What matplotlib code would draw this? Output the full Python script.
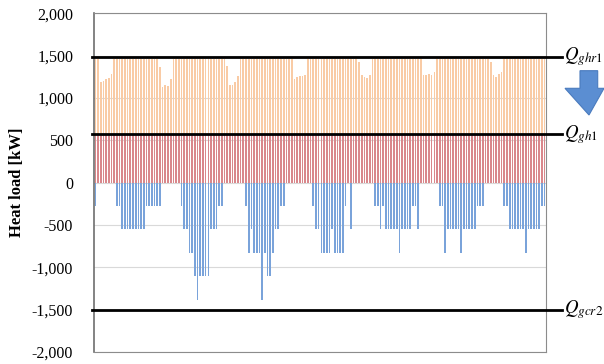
import numpy as np
import matplotlib.pyplot as plt
from matplotlib.patches import Polygon

plt.rcParams['font.family'] = ['Liberation Serif', 'DejaVu Serif']
plt.rcParams['mathtext.fontset'] = 'stix'

# hourly heating load [kW], one list per day (24 h)
F = 1460
heat_d1 = [F, F, 1190, 1205, 1220, 1235, 1280] + [F] * 17
heat_d2 = [1370, 1130, 1160, 1140, 1225] + [F] * 19
heat_d3 = [F, 1380, 1160, 1160, 1190, 1265] + [F] * 18
heat_d4 = [F, F, 1222, 1245, 1255, 1255, 1275] + [F] * 17
heat_d5 = [F, F, 1430, 1275, 1245, 1235, 1275] + [F] * 17
heat_d6 = [F, F, 1275, 1275, 1285, 1275, 1305] + [F] * 17
heat_d7 = [F, F, F, 1430, 1275, 1245, 1285, 1305] + [F] * 16

# hourly cooling load [kW] (negative), one list per day
cool_d1 = [-276, 0, 0, 0, 0, 0, 0, 0, -276, -276,
           -552, -552, -552, -552, -552, -552, -552, -552, -552,
           -276, -276, -276, -276, -276]
cool_d2 = [-276, 0, 0, 0, 0, 0, 0, 0, -276, -552,
           -552, -828, -828, -1104, -1380, -1104, -1104, -1104, -1104,
           -552, -552, -552, -276, -276]
cool_d3 = [0, 0, 0, 0, 0, 0, 0, 0, -276, -828,
           -552, -828, -828, -828, -1380, -828, -1104, -1104, -828,
           -552, -552, -276, -276, 0]
cool_d4 = [0, 0, 0, 0, 0, 0, 0, 0, 0, -276,
           -552, -552, -828, -828, -828, -828, -552, -828, -828,
           -828, -828, -276, 0, -552]
cool_d5 = [0, 0, 0, 0, 0, 0, 0, 0, -276, -276,
           -552, -276, -552, -552, -552, -552, -552, -828, -552,
           -552, -552, -552, -276, -276]
cool_d6 = [-552, 0, 0, 0, 0, 0, 0, 0, -276, -276,
           -828, -552, -552, -552, -552, -552, -828, -552, -552,
           -552, -552, -552, -276, -276]
cool_d7 = [-276, 0, 0, 0, 0, 0, 0, 0, -276, -276,
           -552, -552, -552, -552, -552, -552, -828, -552, -552,
           -552, -552, -552, -276, -276]

Q_ghr1 = 1490
Q_gh1 = 570
Q_gcr2 = -1500

heat = np.array(heat_d1 + heat_d2 + heat_d3 + heat_d4 + heat_d5 + heat_d6 + heat_d7)
cool = np.array(cool_d1 + cool_d2 + cool_d3 + cool_d4 + cool_d5 + cool_d6 + cool_d7)
hours = np.arange(len(heat))

fig = plt.figure(figsize=(6.04, 3.64), dpi=100)
ax = fig.add_axes([94 / 604, 1 - 352 / 364, 452 / 604, 338.6 / 364])

w = 0.62
ax.bar(hours, np.minimum(heat, Q_gh1), width=w, color='#D9878B', zorder=2)
ax.bar(hours, heat - Q_gh1, bottom=Q_gh1, width=w, color='#F9CBA5', zorder=2)
ax.bar(hours, cool, width=w, color='#7AA3DA', zorder=2)

ax.set_xlim(-0.5, len(heat) - 0.5)
ax.set_ylim(-2000, 2000)
ax.set_yticks(np.arange(-2000, 2001, 500))
ax.yaxis.set_major_formatter(plt.FuncFormatter(lambda v, p: f'{int(v):,}'))
ax.set_xticks([])
ax.tick_params(axis='y', length=0, pad=15, labelsize=11.5)
ax.grid(axis='y', color='#D9D9D9', lw=0.8, zorder=0)
ax.set_axisbelow(True)
for s in ax.spines.values():
    s.set_color('#8C8C8C')
    s.set_linewidth(0.8)
ax.spines['left'].set_color('#6E6E6E')
ax.spines['left'].set_linewidth(1.2)

ax.set_ylabel('Heat load [kW]', fontweight='bold', fontsize=12, labelpad=5)

for yv, lab in [(Q_ghr1, r'$Q_{ghr1}$'), (Q_gh1, r'$Q_{gh1}$'), (Q_gcr2, r'$Q_{gcr2}$')]:
    ax.plot([-0.005, 1.035], [yv, yv], transform=ax.get_yaxis_transform(),
            color='black', lw=2, clip_on=False, zorder=5)
    ax.text(1.04, yv, lab, transform=ax.get_yaxis_transform(),
            ha='left', va='center', fontsize=13.5, clip_on=False)

# down arrow at the right edge
pts = [(580, 70.7), (597.7, 70.7), (597.7, 88.3), (604, 88.3),
       (589, 115), (565, 88.3), (580, 88.3)]
arrow = Polygon([(x / 604, 1 - y / 364) for x, y in pts], closed=True,
                transform=fig.transFigure, facecolor='#5B8ED2',
                edgecolor='#4A7BBE', lw=0.8)
fig.patches.append(arrow)

fig.savefig('out.png', dpi=100)
